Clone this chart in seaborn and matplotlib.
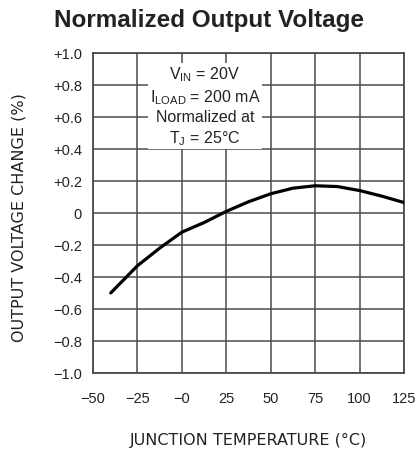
import matplotlib
matplotlib.use('Agg')
import matplotlib.pyplot as plt
import seaborn as sns
from pandas import DataFrame

# values
temps = [-40, -25, -12.5, 0, 12.5, 25, 37.5, 50, 62.5, 75, 87.5, 100, 112.5, 125]
vchange = [-0.50, -0.33, -0.22, -0.12, -0.06, 0.01, 0.07, 0.12, 0.155, 0.17, 0.165, 0.14, 0.105, 0.065]

xticks = [-50, -25, 0, 25, 50, 75, 100, 125]
xtick_labels = ['\u221250', '\u221225', '\u22120', '25', '50', '75', '100', '125']
yticks = [1.0, 0.8, 0.6, 0.4, 0.2, 0.0, -0.2, -0.4, -0.6, -0.8, -1.0]
ytick_labels = ['+1.0', '+0.8', '+0.6', '+0.4', '+0.2', '0',
                '\u22120.2', '\u22120.4', '\u22120.6', '\u22120.8', '\u22121.0']

sns.set_style('white')
plt.rcParams['font.family'] = ['Liberation Sans', 'DejaVu Sans']

df = DataFrame({'temp': temps, 'change': vchange})

fig = plt.figure(figsize=(4.17, 4.56), dpi=100)
ax = fig.add_axes([0.223, 0.18, 0.746, 0.7016])

sns.lineplot(data=df, x='temp', y='change', color='black', linewidth=2.3, ax=ax, zorder=5)

ax.set_xlim(-50, 125)
ax.set_ylim(-1.0, 1.0)
ax.set_xticks(xticks)
ax.set_xticklabels(xtick_labels)
ax.set_yticks(yticks)
ax.set_yticklabels(ytick_labels)
ax.tick_params(length=0, labelsize=10.5, colors='#222222')
ax.tick_params(axis='x', pad=13)
ax.tick_params(axis='y', pad=8)
ax.grid(True, color='#4a4a4a', linewidth=1.1)
for s in ax.spines.values():
    s.set_color('#4a4a4a')
    s.set_linewidth(1.3)

ax.set_xlabel('JUNCTION TEMPERATURE (\u00b0C)', fontsize=11.5, color='#222222',
              family='DejaVu Sans')
ax.set_ylabel('OUTPUT VOLTAGE CHANGE (%)', fontsize=11.5, color='#222222',
              family='DejaVu Sans')
ax.xaxis.set_label_coords(0.5, -0.185)
ax.yaxis.set_label_coords(-0.215, 0.49)

fig.text(0.5, 0.956, 'Normalized Output Voltage', ha='center', va='center',
         fontsize=17.5, fontweight='bold', color='#222222')

ax.text(13, 0.67, '$\\mathregular{V_{IN}}$ = 20V\n$\\mathregular{I_{LOAD}}$ = 200 mA\nNormalized at\n$\\mathregular{T_J}$ = 25\u00b0C',
        ha='center', va='center', fontsize=11.5, color='#222222', linespacing=1.3,
        bbox=dict(facecolor='white', edgecolor='none', pad=1), zorder=4)

fig.savefig('out.png', dpi=100)
